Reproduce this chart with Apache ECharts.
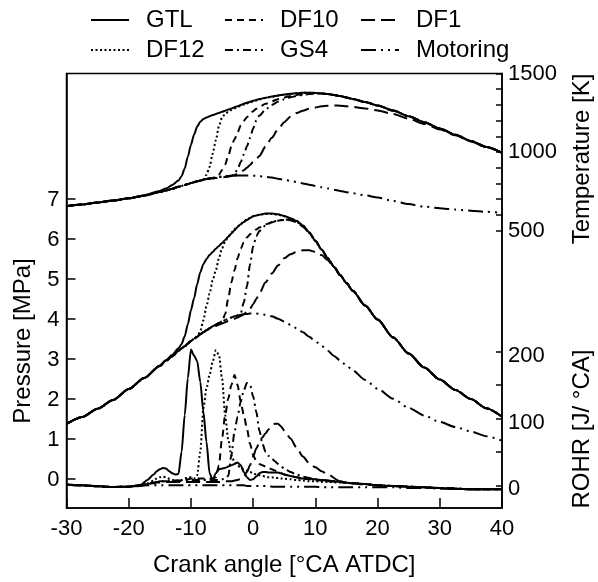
<!DOCTYPE html>
<html><head><meta charset="utf-8">
<script src="https://cdn.jsdelivr.net/npm/echarts@6/dist/echarts.min.js"></script>
<style>html,body{margin:0;padding:0;background:#fff}#c{width:598px;height:582px}</style>
</head><body><div id="c"></div>
<script>
// crank angle grid for pressure and temperature
const caP = [-30,-27.5,-25,-22.5,-20,-17.5,-15,-14,-13,-12,-11.5,-11,-10.5,-10,-9.5,-9,-8.5,-8,-7.5,-7,-6.5,-6,-5.5,-5,-4.5,-4,-3.5,-3,-2.5,-2,-1.5,-1,-0.5,0,0.5,1,2,3,4,5,6,7,8,9,10,11,12,13,14,15,16,18,20,22.5,25,27.5,30,32.5,35,37.5,40];
// pressure [MPa]
const pGTL = [1.36,1.53,1.74,1.96,2.23,2.51,2.82,2.96,3.09,3.25,3.36,3.55,3.85,4.20,4.50,4.85,5.15,5.35,5.48,5.58,5.66,5.74,5.81,5.88,5.96,6.04,6.12,6.20,6.28,6.35,6.41,6.46,6.51,6.55,6.57,6.59,6.62,6.62,6.60,6.56,6.50,6.43,6.32,6.15,5.94,5.72,5.50,5.29,5.08,4.88,4.69,4.32,3.97,3.52,3.12,2.77,2.47,2.21,1.98,1.75,1.54];
const pDF12 = [1.36,1.53,1.74,1.96,2.23,2.51,2.81,2.94,3.05,3.19,3.25,3.30,3.37,3.43,3.49,3.54,3.68,3.95,4.30,4.62,4.95,5.20,5.50,5.75,5.92,6.04,6.14,6.23,6.30,6.36,6.42,6.47,6.51,6.55,6.57,6.59,6.61,6.61,6.59,6.55,6.50,6.43,6.32,6.15,5.94,5.72,5.50,5.29,5.08,4.88,4.69,4.32,3.97,3.52,3.12,2.77,2.47,2.21,1.98,1.75,1.54];
const pDF10 = [1.36,1.53,1.74,1.96,2.23,2.51,2.81,2.94,3.05,3.19,3.25,3.30,3.37,3.43,3.49,3.54,3.60,3.65,3.70,3.75,3.80,3.84,3.88,3.92,4.10,4.50,4.90,5.20,5.50,5.74,5.90,6.02,6.10,6.17,6.22,6.27,6.35,6.40,6.44,6.46,6.45,6.40,6.29,6.13,5.94,5.72,5.50,5.29,5.08,4.88,4.69,4.32,3.97,3.52,3.12,2.77,2.47,2.21,1.98,1.75,1.54];
const pGS4 = [1.36,1.53,1.74,1.96,2.23,2.51,2.81,2.94,3.05,3.19,3.25,3.30,3.37,3.43,3.49,3.54,3.60,3.65,3.70,3.75,3.80,3.84,3.88,3.92,3.96,3.99,4.02,4.05,4.07,4.12,4.40,4.80,5.35,5.80,6.05,6.18,6.32,6.40,6.45,6.47,6.46,6.41,6.30,6.14,5.94,5.72,5.50,5.29,5.08,4.88,4.69,4.32,3.97,3.52,3.12,2.77,2.47,2.21,1.98,1.75,1.54];
const pDF1 = [1.36,1.53,1.74,1.96,2.23,2.51,2.81,2.94,3.05,3.19,3.25,3.30,3.37,3.43,3.49,3.54,3.60,3.65,3.70,3.74,3.78,3.81,3.84,3.87,3.90,3.93,3.96,3.99,4.02,4.06,4.10,4.16,4.24,4.35,4.48,4.62,4.90,5.12,5.32,5.50,5.60,5.66,5.70,5.70,5.66,5.58,5.45,5.27,5.07,4.88,4.69,4.32,3.97,3.52,3.12,2.77,2.47,2.21,1.98,1.75,1.54];
const pMOT = [1.36,1.53,1.74,1.96,2.23,2.51,2.81,2.94,3.05,3.19,3.25,3.30,3.37,3.43,3.49,3.54,3.60,3.65,3.70,3.75,3.80,3.84,3.88,3.92,3.96,3.99,4.02,4.05,4.07,4.09,4.10,4.11,4.12,4.12,4.12,4.11,4.09,4.05,3.99,3.92,3.84,3.75,3.65,3.54,3.43,3.31,3.19,3.06,2.94,2.82,2.70,2.46,2.24,1.99,1.76,1.57,1.41,1.28,1.17,1.05,0.94];
// temperature [K]
const tGTL = [655,666,678,691,705,725,752,768,790,818,846,895,970,1045,1110,1162,1192,1210,1220,1228,1235,1242,1249,1256,1263,1270,1277,1285,1292,1300,1307,1314,1320,1326,1332,1337,1346,1353,1360,1366,1371,1375,1378,1378,1376,1373,1369,1363,1356,1347,1338,1318,1296,1264,1228,1190,1150,1110,1070,1032,995];
const tDF12 = [655,666,678,691,705,722,745,755,766,778,784,790,796,802,808,813,818,826,855,905,990,1075,1165,1220,1242,1256,1267,1277,1286,1294,1302,1309,1316,1322,1328,1334,1344,1352,1359,1365,1370,1375,1378,1378,1376,1373,1369,1363,1356,1347,1338,1318,1296,1264,1228,1190,1150,1110,1070,1032,995];
const tDF10 = [655,666,678,691,705,722,745,755,766,778,784,790,796,802,808,813,818,823,828,832,835,840,855,885,920,975,1035,1080,1125,1168,1198,1222,1243,1260,1275,1287,1307,1323,1336,1347,1356,1363,1368,1372,1376,1373,1369,1363,1356,1347,1338,1318,1296,1264,1228,1190,1150,1110,1070,1032,995];
const tGS4 = [655,666,678,691,705,722,745,755,766,778,784,790,796,802,808,813,818,823,828,832,835,838,841,843,845,847,849,862,890,935,985,1035,1090,1150,1200,1232,1270,1300,1320,1336,1348,1357,1364,1369,1372,1372,1369,1363,1356,1347,1338,1318,1296,1264,1228,1190,1150,1110,1070,1032,995];
const tDF1 = [655,666,678,691,705,722,745,755,766,778,784,790,796,802,808,813,818,823,828,830,832,834,836,838,840,843,847,853,861,871,884,899,917,937,955,975,1035,1090,1145,1190,1225,1248,1263,1275,1284,1291,1295,1297,1295,1291,1287,1277,1265,1242,1212,1179,1143,1106,1067,1030,994];
const tMOT = [655,666,678,691,705,722,745,755,766,778,784,790,796,802,808,813,818,823,828,832,835,838,841,843,845,847,848,849,850,850,850,850,850,849,848,846,842,837,830,823,816,808,800,792,784,776,768,760,752,744,737,724,710,688,668,652,642,633,626,619,612];
// crank angle grid for rate of heat release
const caR = [-30,-27.5,-25,-22.5,-20,-18,-17,-16,-15.5,-15,-14.5,-14,-13.5,-13,-12.5,-12,-11.5,-11,-10.5,-10,-9.5,-9,-8.5,-8,-7.5,-7,-6.5,-6,-5.5,-5,-4.5,-4,-3.5,-3,-2.5,-2,-1.5,-1,-0.5,0,0.5,1,1.5,2,2.5,3,3.5,4,4.5,5,6,7,8,9,10,11,12,14,16,18,20,22.5,25,27.5,30,32.5,35,37.5,40];
// ROHR [J/°CA]
const rGTL = [1,0,-1.5,-2.5,-2,1,8,16,21,24,26,25,21,18,16,17,50,105,160,203,194,186,155,110,65,18,8,18,24,25,26,28,30,32,34,30,20,12,8,9,13,18,20,20,19,19,19,19,18,16,14,12,10,10,9,8,7,5,3,2,0,-1,-2,-3,-4,-5,-6,-6,-6];
const rDF12 = [1,0,-1.5,-2.5,-2,0,3,7,10,12,13,12,10,8,7,7,8,10,12,12,10,15,50,115,145,165,185,202,195,160,105,68,45,35,30,26,24,22,20,18,16,15,14,13,12,12,11,11,10,10,9,8,7,6,6,5,5,4,3,2,0,-1,-2,-3,-4,-5,-6,-6,-6];
const rDF10 = [1,0,-1.5,-2.5,-2,0,2,4,5,6,6,6,6,6,6,6,7,8,9,10,10,10,10,10,10,10,10,12,30,70,105,130,150,165,150,125,105,85,62,45,36,32,30,28,26,24,22,20,18,16,14,12,10,9,8,7,6,5,3,2,0,-1,-2,-3,-4,-5,-6,-6,-6];
const rGS4 = [1,0,-1.5,-2.5,-2,0,2,4,5,6,6,7,7,7,7,7,7,8,8,8,8,8,8,8,8,8,8,8,8,9,10,14,45,80,103,125,142,153,150,133,110,82,62,50,44,40,36,32,28,25,20,16,13,11,9,8,7,5,3,2,0,-1,-2,-3,-4,-5,-6,-6,-6];
const rDF1 = [1,0,-1.5,-2.5,-2,0,2,3,4,4,5,5,5,5,5,5,5,5,5,5,5,5,5,5,5,5,5,5,5,5,6,6,6,7,8,10,14,20,30,43,55,64,72,78,84,89,92,92,88,82,70,56,43,33,27,21,16,6,3,1,0,-1,-2,-3,-4,-5,-6,-6,-6];
const rMOT = [1,0,-1.5,-2.5,-2,-1,0,0,0,0,0,0,0,0,0,0,0,0,0,0,0,0,0,0,0,0,0,0,0,0,0,0,0,0,0,0,0,-1,-1,-1,-1,-1,-1,-1,-1,-2,-2,-2,-2,-2,-2,-2,-2,-2,-2,-3,-3,-3,-3,-3,-3,-3,-4,-4,-5,-5,-6,-6,-6];
// axis ticks and labels
const pTicks = [0,1,2,3,4,5,6,7];
const tTicks = [500,600,700,800,900,1000,1100,1200,1300,1400,1500];
const tLabels = [500,1000,1500];
const rTicks = [0,50,100,150,200];
const rLabels = [0,100,200];
const names = ['GTL','DF10','DF1','DF12','GS4','Motoring'];

const FONT = 'Liberation Sans, Arial, sans-serif';
const dash = {
  'GTL': 'solid',
  'DF12': [2,2.5],
  'DF10': [7,5],
  'DF1': [14,6],
  'GS4': [8,4,2,4],
  'Motoring': [15,5,2,5,2,5]
};
const sets = [
  ['GTL', pGTL, tGTL, rGTL],
  ['DF12', pDF12, tDF12, rDF12],
  ['DF10', pDF10, tDF10, rDF10],
  ['GS4', pGS4, tGS4, rGS4],
  ['DF1', pDF1, tDF1, rDF1],
  ['Motoring', pMOT, tMOT, rMOT]
];
const series = [];
function mk(name, axis, xs, ys) {
  return {
    type: 'line', name: name, yAxisIndex: axis,
    data: xs.map((x, i) => [x, ys[i]]),
    symbol: 'none', showSymbol: false, smooth: 0.25, smoothMonotone: 'x',
    lineStyle: { color: '#000', width: 2, type: dash[name], cap: 'butt' },
    itemStyle: { color: '#000' },
    emphasis: { disabled: true }
  };
}
sets.forEach(s => {
  series.push(mk(s[0], 0, caP, s[1]));
  series.push(mk(s[0], 1, caP, s[2]));
  series.push(mk(s[0], 2, caR, s[3]));
});

const GL = 66.5, GT = 73.5, GW = 435.5, GH = 434.5;
const legendPos = [[90, 8], [224, 8], [360, 8], [90, 38], [224, 38], [360, 38]];
const legends = names.map((n, i) => ({
  data: [n], left: legendPos[i][0], top: legendPos[i][1],
  itemWidth: 38, itemHeight: 16, padding: 0, selectedMode: false,
  itemStyle: { opacity: 0 },
  textStyle: { fontSize: 24, color: '#000', fontFamily: FONT, padding: [0, 0, 0, 12] }
}));

const TK = { fontSize: 22, color: '#000', fontFamily: FONT };
const tickLine = { color: '#000', width: 1.5 };
const option = {
  animation: false,
  backgroundColor: '#fff',
  legend: legends,
  grid: { left: GL, top: GT, width: GW, height: GH, show: true, borderColor: '#000', borderWidth: 1.5, backgroundColor: 'transparent' },
  xAxis: {
    type: 'value', min: -30, max: 40, interval: 10,
    axisLine: { onZero: false, lineStyle: tickLine },
    axisTick: { inside: true, length: 10, lineStyle: tickLine },
    axisLabel: Object.assign({ margin: 10, formatter: v => String(v) }, TK),
    splitLine: { show: false },
    name: 'Crank angle [°CA ATDC]', nameLocation: 'middle', nameGap: 45,
    nameTextStyle: { fontSize: 24, color: '#000', fontFamily: FONT }
  },
  yAxis: [
    {
      type: 'value', position: 'left', min: -0.7425, max: 10.12,
      axisLine: { show: true, onZero: false, lineStyle: tickLine },
      axisTick: { inside: true, length: 9, customValues: pTicks, lineStyle: tickLine },
      axisLabel: Object.assign({ margin: 7, customValues: pTicks, lineHeight: 4, formatter: v => '\n' + v }, TK),
      splitLine: { show: false }
    },
    {
      type: 'value', position: 'right', min: -1267.5, max: 1500,
      axisLine: { show: false, onZero: false },
      axisTick: { inside: true, length: 6, customValues: tTicks, lineStyle: tickLine },
      axisLabel: Object.assign({ margin: 6, customValues: tLabels, formatter: v => String(v) }, TK),
      splitLine: { show: false }
    },
    {
      type: 'value', position: 'right', min: -33.96, max: 616.0,
      axisLine: { show: true, onZero: false, lineStyle: tickLine },
      axisTick: { inside: true, length: 6, customValues: rTicks, lineStyle: tickLine },
      axisLabel: Object.assign({ margin: 6, customValues: rLabels, lineHeight: 8, formatter: v => '\n' + v }, TK),
      splitLine: { show: false }
    }
  ],
  graphic: [
    { type: 'text', x: 23, y: 341, rotation: Math.PI / 2,
      style: { text: 'Pressure [MPa]', fontSize: 24, fontFamily: FONT, fill: '#000', align: 'center', verticalAlign: 'middle' } },
    { type: 'text', x: 582, y: 159, rotation: Math.PI / 2,
      style: { text: 'Temperature [K]', fontSize: 24, fontFamily: FONT, fill: '#000', align: 'center', verticalAlign: 'middle' } },
    { type: 'text', x: 582, y: 429, rotation: Math.PI / 2,
      style: { text: 'ROHR [J/ °CA]', fontSize: 24, fontFamily: FONT, fill: '#000', align: 'center', verticalAlign: 'middle' } }
  ],
  series: series
};
const chart = echarts.init(document.getElementById('c'), null, { renderer: 'canvas' });
chart.setOption(option);
</script>
</body></html>
